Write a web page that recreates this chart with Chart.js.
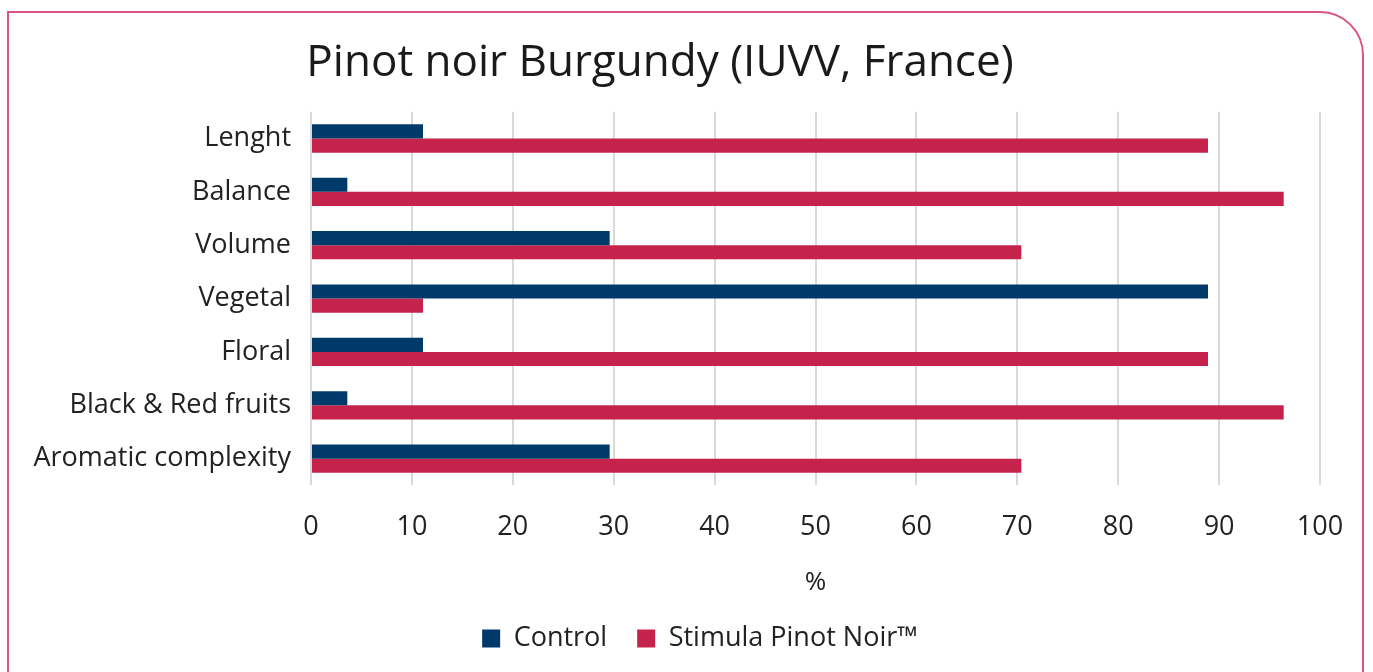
<!DOCTYPE html>
<html>
<head>
<meta charset="utf-8">
<script src="https://cdn.jsdelivr.net/npm/chart.js@4.4.1/dist/chart.umd.min.js"></script>
<style>
  html, body { margin: 0; padding: 0; background: #fff; overflow: hidden; }
  #frame {
    position: absolute; left: 7px; top: 11px; width: 1357px; height: 720px;
    border: 2px solid #d9567d; border-radius: 0 44px 0 44px; box-sizing: border-box;
  }
  #wrap { position: absolute; left: 0; top: 0; width: 1373px; height: 672px; }
</style>
</head>
<body>
<div id="frame"></div>
<div id="wrap"><canvas id="wineChart"></canvas></div>
<script>
// values (%)
const attributes = ['Lenght', 'Balance', 'Volume', 'Vegetal', 'Floral', 'Black & Red fruits', 'Aromatic complexity'];
const controlValues = [11.1, 3.6, 29.6, 88.9, 11.1, 3.6, 29.6];
const stimulaValues = [88.9, 96.4, 70.4, 11.1, 88.9, 96.4, 70.4];
const xTicks = [0, 10, 20, 30, 40, 50, 60, 70, 80, 90, 100];

const fontFamily = '"Open Sans", sans-serif';

document.addEventListener('DOMContentLoaded', function() {
    drawWineChart();
});

// legend sits a bit right of the title in the original
const legendShift = {
    id: 'legendShift',
    afterLayout(chart) {
        if (chart.legend) {
            chart.legend.left += 40;
            chart.legend.right += 40;
        }
    }
};

function drawWineChart() {
    const ctx = document.getElementById('wineChart').getContext('2d');

    new Chart(ctx, {
        type: 'bar',
        data: {
            labels: attributes,
            datasets: [{
                label: 'Control',
                data: controlValues,
                backgroundColor: '#003a6b'
            }, {
                label: 'Stimula Pinot Noir™',
                data: stimulaValues,
                backgroundColor: '#c5234b'
            }]
        },
        options: {
            indexAxis: 'y',
            responsive: true,
            maintainAspectRatio: false,
            animation: false,
            layout: { padding: { left: 0, right: 53, top: 0, bottom: 10 } },
            datasets: {
                bar: { categoryPercentage: 0.53, barPercentage: 1.0 }
            },
            scales: {
                x: {
                    min: 0,
                    max: 100,
                    afterBuildTicks: function(axis) {
                        axis.ticks = xTicks.map(v => ({ value: v }));
                    },
                    afterFit: function(axis) {
                        axis.paddingLeft = 0;
                        axis.paddingRight = 0;
                    },
                    grid: { color: '#d9d9d9', lineWidth: 2, drawTicks: false },
                    border: { display: false },
                    ticks: {
                        padding: 26,
                        color: '#222',
                        font: { family: fontFamily, size: 27 }
                    },
                    title: {
                        display: true,
                        text: '%',
                        color: '#222',
                        font: { family: fontFamily, size: 26 },
                        padding: { top: -3, bottom: -3 }
                    }
                },
                y: {
                    afterFit: function(axis) {
                        axis.width = 311;
                    },
                    grid: { display: false },
                    border: { display: false },
                    ticks: {
                        padding: 12,
                        color: '#222',
                        font: { family: fontFamily, size: 27 }
                    }
                }
            },
            plugins: {
                title: {
                    display: true,
                    text: 'Pinot noir Burgundy (IUVV, France)',
                    color: '#1a1a1a',
                    font: { family: fontFamily, size: 44, weight: 'normal' },
                    padding: { top: 37, bottom: 22 }
                },
                legend: {
                    position: 'bottom',
                    labels: {
                        color: '#222',
                        boxWidth: 18,
                        boxHeight: 18,
                        padding: 30,
                        font: { family: fontFamily, size: 27 }
                    }
                },
                tooltip: { enabled: false }
            }
        },
        plugins: [legendShift]
    });
}
</script>
</body>
</html>
